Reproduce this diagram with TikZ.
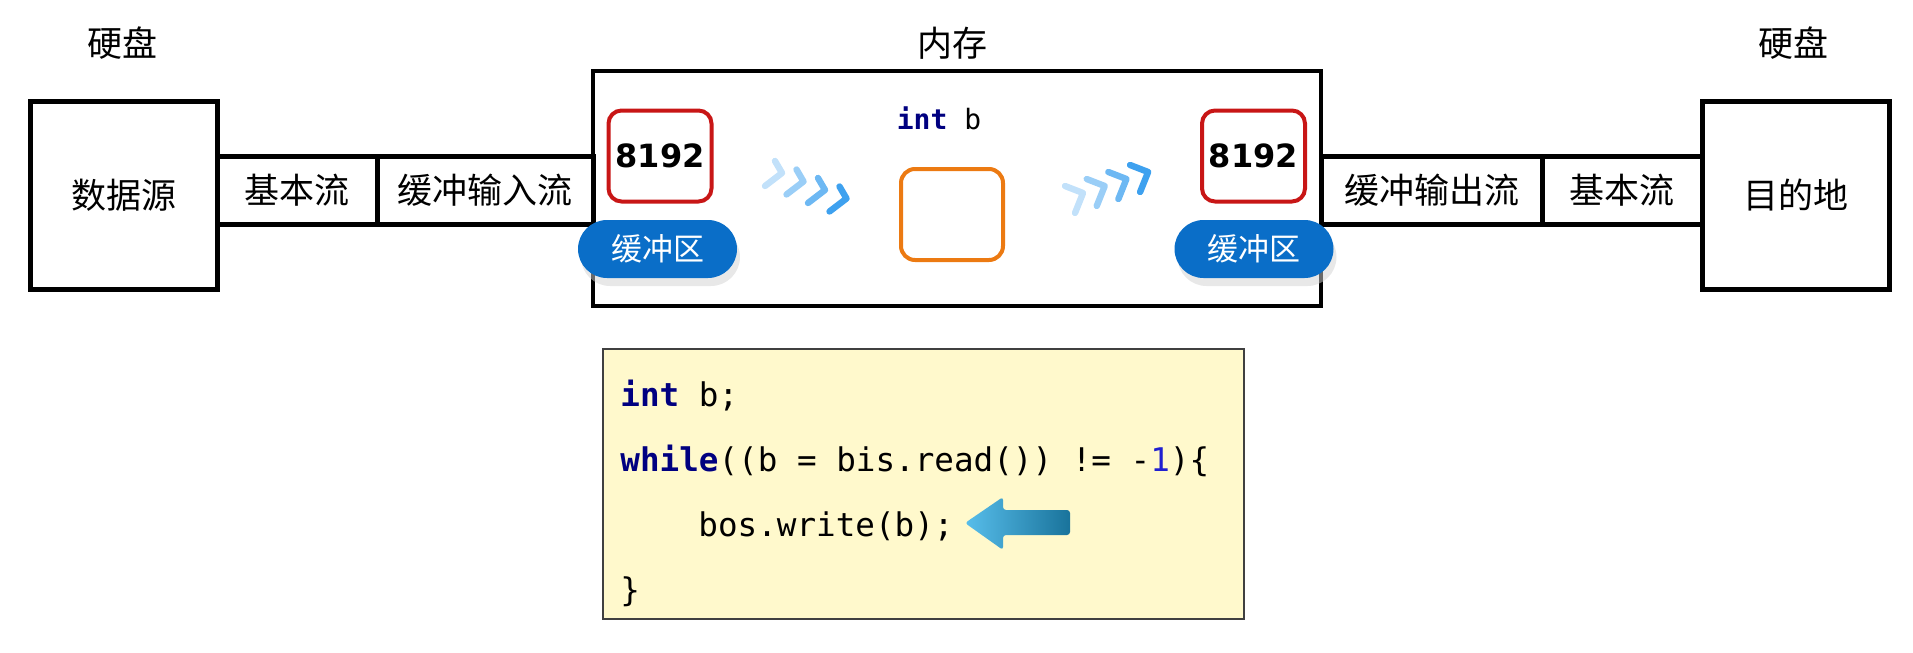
\documentclass[tikz,border=0pt]{standalone}
\usepackage{fontspec}
\setmainfont{Noto Sans CJK SC}
\newfontfamily\codefont{DejaVu Sans Mono}
\newfontfamily\numfont{DejaVu Sans}
\usetikzlibrary{positioning,shadows}
\definecolor{bufred}{RGB}{200,22,22}
\definecolor{bufblue}{RGB}{10,110,200}
\definecolor{varorange}{RGB}{236,122,18}
\definecolor{codefill}{RGB}{255,249,204}
\definecolor{kwnavy}{RGB}{0,0,128}
\definecolor{numblue}{RGB}{32,32,208}
\definecolor{chevblue}{RGB}{52,156,238}
\definecolor{arrowlight}{RGB}{88,190,235}
\definecolor{arrowdark}{RGB}{25,115,155}

\begin{document}
\begin{tikzpicture}[x=0.5pt, y=-0.5pt,
  every node/.style={font=\fontsize{17.5pt}{20pt}\selectfont, inner sep=0pt},
  diskbox/.style={draw, line width=2.5pt, outer sep=0pt, minimum width=93.5pt, minimum height=94pt},
  streambox/.style={draw, line width=2.5pt, outer sep=0pt, minimum height=34pt},
  bufval/.style={draw=bufred, line width=2pt, rounded corners=6.5pt, fill=white,
    minimum width=51.5pt, minimum height=45.5pt, font=\numfont\bfseries\fontsize{16pt}{18pt}\selectfont},
  bufpill/.style={fill=bufblue, text=white, rounded corners=14.5pt, minimum width=79.5pt, minimum height=29pt,
    font=\fontsize{15.5pt}{18pt}\selectfont, drop shadow={shadow xshift=1.5pt, shadow yshift=-4pt, fill=gray!35}},
  chevron/.style={line width=3.2pt, line cap=round, line join=round},
  codeline/.style={anchor=base west, font=\codefont\fontsize{16.3pt}{20pt}\selectfont}]
  \useasboundingbox (0,0) rectangle (1913,653);
  % memory
  \node[draw, line width=2.2pt, outer sep=0pt, minimum width=364pt, minimum height=117.5pt] (mem) at (957,188.5) {};
  \node (memlabel) at (952,43) {内存};
  % input side
  \node[diskbox] (src) at (123.5,195) {数据源};
  \node (srcdisk) at (122,43) {硬盘};
  \node[streambox, minimum width=80pt] (inbase) at (297,190) {基本流};
  \node[streambox, minimum width=108pt, right=0pt of inbase] (inbuf) {缓冲输入流};
  % output side
  \node[diskbox] (dst) at (1795.5,195) {目的地};
  \node (dstdisk) at (1793,43) {硬盘};
  \node[streambox, minimum width=110.5pt] (outbuf) at (1431.5,190) {缓冲输出流};
  \node[streambox, minimum width=80pt, right=0pt of outbuf] (outbase) {基本流};
  % buffers
  \node[bufval] (inval) at (660,156) {8192};
  \node[bufpill] (inpill) at (657.5,249) {缓冲区};
  \node[bufval] (outval) at (1253.5,156) {8192};
  \node[bufpill] (outpill) at (1254,249) {缓冲区};
  % variable b
  \node[font=\codefont\fontsize{14pt}{17pt}\selectfont] (varlabel) at (939,118) {\textcolor{kwnavy}{\bfseries int} b};
  \node[draw=varorange, line width=2pt, rounded corners=7pt, minimum width=51pt, minimum height=45.5pt] (var) at (952,214.5) {};
  % chevrons
  \foreach \i/\c in {0/30,1/50,2/72,3/95}{
    \draw[chevron, chevblue!\c!white] ({775+21.5*\i},{161+8.5*\i}) -- ({782+21.5*\i},{173+8.5*\i}) -- ({765+21.5*\i},{186+8.5*\i});
    \draw[chevron, chevblue!\c!white] ({1065+21.7*\i},{186-7*\i}) -- ({1083+21.7*\i},{193-7*\i}) -- ({1075+21.7*\i},{213-7*\i});
  }
  % code
  \node[draw=black!75, line width=1pt, fill=codefill, minimum width=320.5pt, minimum height=135pt] (code) at (923.5,484) {};
  \node[codeline] (line1) at (620,406) {\textcolor{kwnavy}{\bfseries int} b;};
  \node[codeline] (line2) at (620,471) {\textcolor{kwnavy}{\bfseries while}((b = bis.read()) != -\textcolor{numblue}{1})\{};
  \node[codeline] (line3) at (698,536) {bos.write(b);};
  \node[codeline] (line4) at (620,601) {\}};
  \shade[left color=arrowlight, middle color=arrowlight!85!arrowdark, right color=arrowdark, rounded corners=1.5pt]
    (965,523) -- (1003,497) -- (1003,510) -- (1070,510) -- (1070,535) -- (1003,535) -- (1003,550) -- cycle;
\end{tikzpicture}
\end{document}
